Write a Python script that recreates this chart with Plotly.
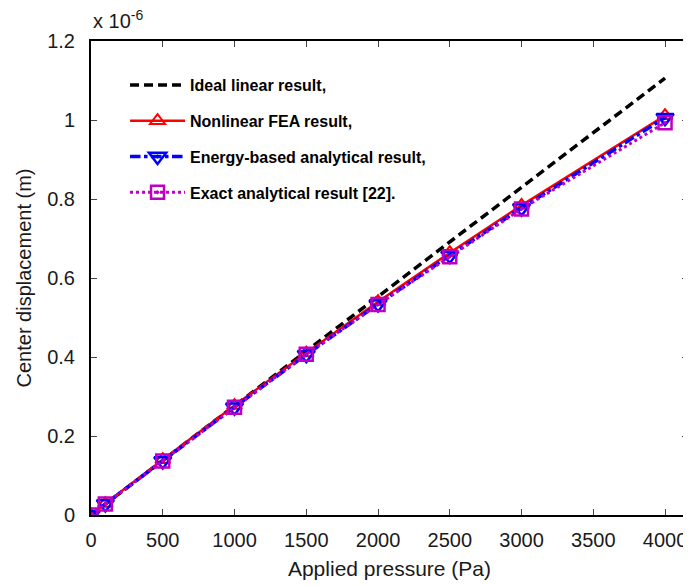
import plotly.graph_objects as go

# Applied pressure (Pa)
pressure = [0, 100, 500, 1000, 1500, 2000, 2500, 3000, 4000]
linear_x = [0, 4000]
# Center displacement (x 1e-6 m)
ideal_linear = [0, 1.106]
nonlinear_fea = [0, 0.029, 0.140, 0.277, 0.410, 0.540, 0.664, 0.784, 1.011]
energy_based = [0, 0.028, 0.137, 0.273, 0.406, 0.534, 0.657, 0.777, 1.006]
exact_analytical = [0, 0.028, 0.137, 0.273, 0.407, 0.533, 0.654, 0.775, 0.993]

x_ticks = [0, 500, 1000, 1500, 2000, 2500, 3000, 3500, 4000]
y_ticks = [0, 0.2, 0.4, 0.6, 0.8, 1.0, 1.2]
y_tick_labels = ["0", "0.2", "0.4", "0.6", "0.8", "1", "1.2"]

fig = go.Figure()
fig.add_trace(go.Scatter(x=linear_x, y=ideal_linear, mode="lines",
                         name="Ideal linear result,", legendgroup="a",
                         line=dict(color="black", width=3.5, dash="9px,5px")))
fig.add_trace(go.Scatter(x=pressure, y=nonlinear_fea, mode="lines+markers",
                         name="Nonlinear FEA result,", legendgroup="b",
                         line=dict(color="#ff0000", width=2.5),
                         marker=dict(symbol="triangle-up-open", size=13, color="#ff0000",
                                     line=dict(width=2, color="#ff0000"))))
fig.add_trace(go.Scatter(x=pressure, y=energy_based, mode="lines+markers",
                         name="Energy-based analytical result,", legendgroup="c",
                         line=dict(color="#0000ff", width=3.5, dash="dashdot"),
                         marker=dict(symbol="triangle-down-open-dot", size=15, color="#0000ff",
                                     line=dict(width=2.5, color="#0000ff"))))
fig.add_trace(go.Scatter(x=pressure, y=exact_analytical, mode="lines+markers",
                         name="Exact analytical result [22].", legendgroup="d",
                         line=dict(color="#c000c0", width=3, dash="dot"),
                         marker=dict(symbol="square-open-dot", size=13, color="#c000c0",
                                     line=dict(width=2.5, color="#c000c0"))))

axis_font = dict(family="Liberation Sans, Arial, sans-serif", size=20, color="#1a1a1a")
xtitle_font = dict(family="Liberation Sans, Arial, sans-serif", size=21, color="#1a1a1a")

# page body has an 8px margin, so the figure is sized/offset to compensate
fig.update_layout(
    width=683, height=578,
    margin=dict(l=83, r=3, t=33, b=71),
    paper_bgcolor="white", plot_bgcolor="white",
    font=axis_font,
    showlegend=True,
    legend=dict(x=0.057, y=0.943, xanchor="left", yanchor="top",
                bgcolor="rgba(255,255,255,0)", borderwidth=0,
                traceorder="grouped", tracegroupgap=12, itemwidth=55,
                font=dict(family="Liberation Sans, Arial, sans-serif", size=16,
                          color="black", weight="bold")),
    xaxis=dict(range=[0, 4160], tickvals=x_ticks, ticks="inside", ticklen=6,
               tickwidth=1, tickcolor="#444", showline=True, linecolor="black",
               linewidth=2, mirror="ticks", showgrid=False, zeroline=False,
               ticklabelstandoff=6, tickfont=axis_font, automargin=False,
               title=dict(text="Applied pressure (Pa)", font=xtitle_font, standoff=11)),
    yaxis=dict(range=[0, 1.2], tickvals=y_ticks, ticktext=y_tick_labels,
               ticks="inside", ticklen=6, tickwidth=1, tickcolor="#444",
               showline=True, linecolor="black", linewidth=2, mirror="ticks",
               showgrid=False, zeroline=False, ticklabelstandoff=10,
               tickfont=axis_font, automargin=False,
               title=dict(text="Center displacement (m)", font=axis_font, standoff=10)),
    annotations=[dict(text="x 10<sup>-6</sup>", xref="paper", yref="paper",
                      x=0.0, y=1.0, xanchor="left", yanchor="bottom", yshift=7,
                      showarrow=False, font=axis_font)],
)

fig.write_html("out.html")
